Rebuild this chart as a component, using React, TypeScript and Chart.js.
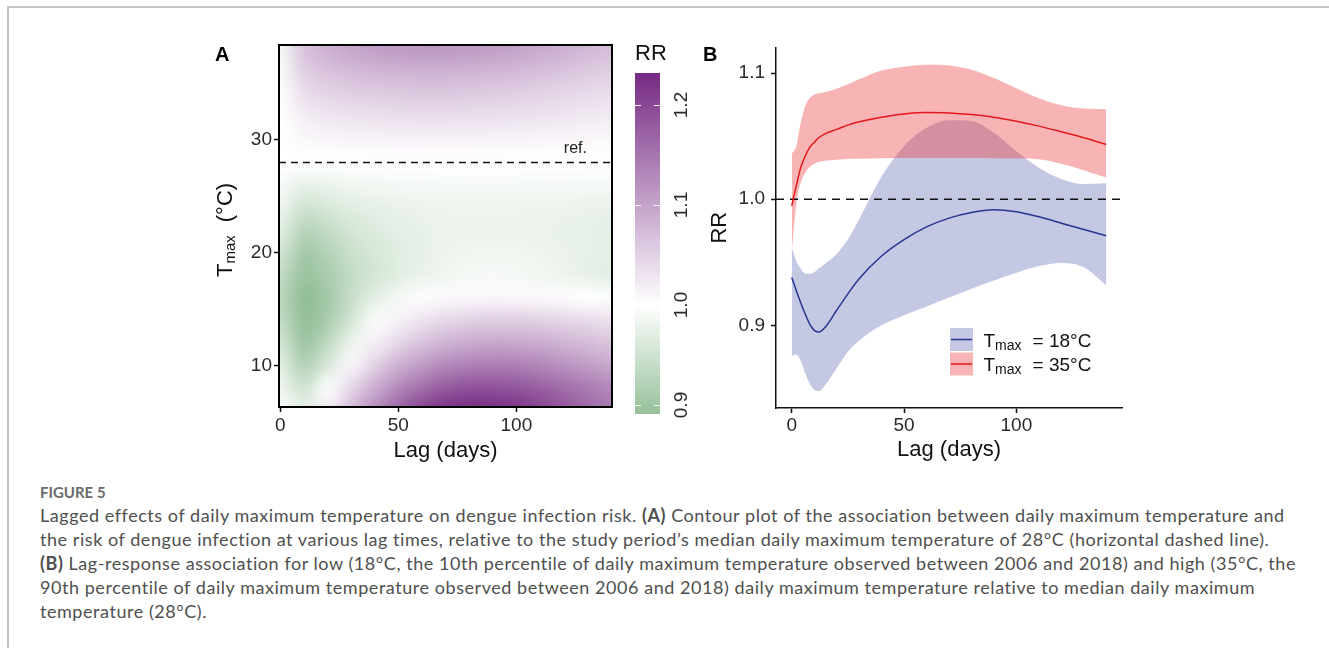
import React, { useEffect, useRef } from 'react';
import { Chart, registerables } from 'chart.js';

Chart.register(...registerables);

const SANS = "'Liberation Sans', Arial, Helvetica, sans-serif";
const CAPTION_FONT = "Lato, 'Open Sans', 'Noto Sans', sans-serif";
Chart.defaults.font.family = SANS;

// ---------------- Panel A: heat map (RR by lag and Tmax) ----------------
const HEAT_LAGS = [0, 10, 20, 30, 40, 50, 60, 70, 80, 90, 100, 110, 120, 130, 140];
const HEAT_TEMPS = [6, 8, 10, 12, 14, 16, 18, 20, 22, 24, 26, 28, 30, 32, 34, 36, 38];
const RR_T6 = [0.995, 0.975, 1.025, 1.075, 1.125, 1.17, 1.205, 1.225, 1.232, 1.23, 1.22, 1.205, 1.185, 1.165, 1.145];
const RR_T8 = [0.985, 0.95, 0.998, 1.045, 1.09, 1.13, 1.16, 1.18, 1.19, 1.19, 1.185, 1.175, 1.16, 1.145, 1.13];
const RR_T10 = [0.97, 0.92, 0.962, 1.012, 1.05, 1.085, 1.11, 1.13, 1.14, 1.142, 1.14, 1.132, 1.12, 1.108, 1.095];
const RR_T12 = [0.955, 0.9, 0.932, 0.982, 1.018, 1.045, 1.068, 1.083, 1.092, 1.096, 1.095, 1.09, 1.082, 1.073, 1.063];
const RR_T14 = [0.94, 0.89, 0.912, 0.955, 0.995, 1.015, 1.032, 1.044, 1.051, 1.054, 1.054, 1.051, 1.046, 1.04, 1.033];
const RR_T16 = [0.93, 0.885, 0.905, 0.942, 0.972, 0.99, 1.003, 1.007, 1.009, 1.01, 1.009, 1.007, 1.004, 1.0, 0.997];
const RR_T18 = [0.938, 0.896, 0.912, 0.937, 0.955, 0.968, 0.978, 0.985, 0.9895, 0.9916, 0.99, 0.986, 0.981, 0.976, 0.971];
const RR_T20 = [0.955, 0.905, 0.922, 0.944, 0.958, 0.968, 0.976, 0.981, 0.984, 0.985, 0.984, 0.982, 0.979, 0.976, 0.973];
const RR_T22 = [0.97, 0.925, 0.938, 0.955, 0.966, 0.972, 0.976, 0.979, 0.98, 0.98, 0.98, 0.979, 0.977, 0.975, 0.973];
const RR_T24 = [0.982, 0.95, 0.958, 0.968, 0.974, 0.978, 0.98, 0.982, 0.982, 0.982, 0.982, 0.981, 0.98, 0.979, 0.978];
const RR_T26 = [0.992, 0.975, 0.979, 0.984, 0.987, 0.989, 0.99, 0.991, 0.991, 0.991, 0.991, 0.99, 0.99, 0.989, 0.989];
const RR_T28 = [1, 1, 1, 1, 1, 1, 1, 1, 1, 1, 1, 1, 1, 1, 1];
const RR_T30 = [1.0, 1.008, 1.01, 1.012, 1.013, 1.014, 1.014, 1.014, 1.014, 1.013, 1.012, 1.011, 1.01, 1.009, 1.008];
const RR_T32 = [1.0, 1.02, 1.027, 1.031, 1.033, 1.035, 1.036, 1.036, 1.035, 1.034, 1.032, 1.03, 1.027, 1.024, 1.021];
const RR_T34 = [0.998, 1.036, 1.046, 1.052, 1.055, 1.058, 1.059, 1.059, 1.057, 1.055, 1.052, 1.048, 1.044, 1.04, 1.036];
const RR_T36 = [0.995, 1.052, 1.065, 1.073, 1.078, 1.082, 1.083, 1.083, 1.081, 1.078, 1.075, 1.07, 1.064, 1.058, 1.052];
const RR_T38 = [0.99, 1.065, 1.085, 1.097, 1.105, 1.11, 1.112, 1.112, 1.11, 1.106, 1.1, 1.093, 1.086, 1.078, 1.07];
const HEAT_RR = [RR_T6, RR_T8, RR_T10, RR_T12, RR_T14, RR_T16, RR_T18, RR_T20, RR_T22, RR_T24, RR_T26, RR_T28, RR_T30, RR_T32, RR_T34, RR_T36, RR_T38];

const LAG_RANGE_A = [-0.5, 140.5];
const TEMP_RANGE_A = [6.35, 38.4];
const LAG_TICKS = [0, 50, 100];
const TEMP_TICKS = [10, 20, 30];
const REF_TEMP = 28;
const REF_LABEL = { lag: 125, temp: 28.85, text: 'ref.' };

// colour bar
const CB_RANGE = [0.891, 1.232];
const CB_TICKS = [0.9, 1.0, 1.1, 1.2];
const RR_MID = 1;
const HIGH_RGB = [118, 42, 131];
const LOW_RGB = [32, 121, 40];

// ---------------- Panel B: lag-response curves ----------------
const LAGS_B = [0, 2, 4, 6, 8, 10, 12, 15, 20, 25, 30, 40, 50, 60, 70, 80, 90, 100, 110, 120, 130, 140];
const RR_LOW = [0.938, 0.9276, 0.918, 0.909, 0.901, 0.896, 0.8947, 0.8987, 0.912, 0.925, 0.937, 0.955, 0.968, 0.978, 0.985, 0.9895, 0.9916, 0.99, 0.986, 0.981, 0.976, 0.971];
const LOW_UPPER = [0.962, 0.951, 0.945, 0.941, 0.941, 0.942, 0.945, 0.949, 0.9566, 0.968, 0.984, 1.018, 1.042, 1.0566, 1.0626, 1.062, 1.0526, 1.038, 1.025, 1.016, 1.012, 1.0126];
const LOW_LOWER = [0.876, 0.877, 0.872, 0.862, 0.854, 0.849, 0.848, 0.853, 0.866, 0.879, 0.888, 0.9, 0.908, 0.915, 0.922, 0.929, 0.9355, 0.9416, 0.947, 0.9495, 0.946, 0.9316];
const RR_HIGH = [0.9947, 1.0105, 1.025, 1.034, 1.041, 1.045, 1.0487, 1.052, 1.0553, 1.0587, 1.0613, 1.065, 1.0676, 1.0687, 1.0684, 1.0671, 1.065, 1.0618, 1.0579, 1.0534, 1.0487, 1.0434];
const HIGH_UPPER = [1.036, 1.042, 1.0605, 1.0737, 1.08, 1.083, 1.084, 1.085, 1.0876, 1.091, 1.095, 1.102, 1.105, 1.1066, 1.106, 1.1026, 1.096, 1.088, 1.08, 1.0745, 1.0718, 1.0713];
const HIGH_LOWER = [0.958, 0.996, 1.013, 1.021, 1.0255, 1.028, 1.0295, 1.0305, 1.0313, 1.0318, 1.032, 1.0324, 1.0326, 1.0327, 1.0327, 1.0326, 1.0325, 1.0322, 1.0316, 1.028, 1.023, 1.0171];
const LAG_RANGE_B = [-7, 147];
const RR_RANGE_B = [0.8345, 1.1203];
const RR_TICKS_B = [0.9, 1.0, 1.1];
const LEGEND_LABELS = ['= 18°C', '= 35°C'];

const BLUE_LINE = '#283593';
const BLUE_FILL = 'rgba(40,53,147,0.27)';
const RED_LINE = '#e3191c';
const RED_FILL = 'rgba(235,40,40,0.35)';
const TICK_COLOR = '#2a2a2a';
const TITLE_COLOR = '#111';

function rrRGB(v: number): number[] {
  const half = CB_RANGE[1] - RR_MID;
  const t = Math.min(1, Math.abs(v - RR_MID) / half);
  const c = v >= RR_MID ? HIGH_RGB : LOW_RGB;
  return [0, 1, 2].map((k) => Math.round(255 + (c[k] - 255) * t));
}
function rrColor(v: number): string {
  const [r, g, b] = rrRGB(v);
  return `rgb(${r},${g},${b})`;
}
const pts = (xs: number[], ys: number[]) => xs.map((x, i) => ({ x, y: ys[i] }));
const fixedTicks = (vals: number[]) => (s: any) => {
  s.ticks = vals.map((value) => ({ value }));
};

const heatmapPlugin = {
  id: 'heatmap',
  beforeDatasetsDraw(chart: any) {
    const { ctx, chartArea: ca, scales } = chart;
    const xs = scales.x;
    const ys = scales.y;
    const nc = HEAT_LAGS.length;
    const nr = HEAT_TEMPS.length;
    const off = document.createElement('canvas');
    off.width = nc + 2;
    off.height = nr + 2;
    const octx = off.getContext('2d')!;
    const img = octx.createImageData(nc + 2, nr + 2);
    for (let r = 0; r < nr + 2; r++) {
      const ti = Math.min(nr - 1, Math.max(0, nr - r));
      for (let c = 0; c < nc + 2; c++) {
        const li = Math.min(nc - 1, Math.max(0, c - 1));
        const [R, G, B] = rrRGB(HEAT_RR[ti][li]);
        const p = (r * (nc + 2) + c) * 4;
        img.data[p] = R;
        img.data[p + 1] = G;
        img.data[p + 2] = B;
        img.data[p + 3] = 255;
      }
    }
    octx.putImageData(img, 0, 0);
    const dl = HEAT_LAGS[1] - HEAT_LAGS[0];
    const dt = HEAT_TEMPS[1] - HEAT_TEMPS[0];
    const left = xs.getPixelForValue(HEAT_LAGS[0] - 1.5 * dl);
    const right = xs.getPixelForValue(HEAT_LAGS[nc - 1] + 1.5 * dl);
    const top = ys.getPixelForValue(HEAT_TEMPS[nr - 1] + 1.5 * dt);
    const bottom = ys.getPixelForValue(HEAT_TEMPS[0] - 1.5 * dt);
    ctx.save();
    ctx.beginPath();
    ctx.rect(ca.left, ca.top, ca.right - ca.left, ca.bottom - ca.top);
    ctx.clip();
    ctx.imageSmoothingEnabled = true;
    ctx.imageSmoothingQuality = 'high';
    ctx.drawImage(off, left, top, right - left, bottom - top);
    ctx.restore();
  },
};

const panelADecor = {
  id: 'panelADecor',
  afterDraw(chart: any) {
    const { ctx, chartArea: ca, scales } = chart;
    ctx.save();
    ctx.strokeStyle = '#000';
    ctx.lineWidth = 2;
    ctx.strokeRect(ca.left, ca.top, ca.right - ca.left, ca.bottom - ca.top);
    // ref label
    ctx.fillStyle = '#222';
    ctx.font = `16px ${SANS}`;
    ctx.textAlign = 'center';
    ctx.textBaseline = 'alphabetic';
    ctx.fillText(REF_LABEL.text, scales.x.getPixelForValue(REF_LABEL.lag), scales.y.getPixelForValue(REF_LABEL.temp));
    // panel letter
    ctx.fillStyle = '#000';
    ctx.font = `bold 20px ${SANS}`;
    ctx.textAlign = 'left';
    ctx.fillText('A', 15, 31);
    // y title T_max (°C)
    ctx.translate(31.5, 247);
    ctx.rotate(-Math.PI / 2);
    ctx.fillStyle = TITLE_COLOR;
    ctx.font = `22px ${SANS}`;
    ctx.fillText('T', 0, 0);
    const wT = ctx.measureText('T').width;
    ctx.font = `15px ${SANS}`;
    ctx.fillText('max', wT, 3);
    const wM = ctx.measureText('max').width;
    ctx.font = `22px ${SANS}`;
    ctx.fillText('(°C)', wT + wM + 13, 0);
    ctx.restore();
  },
};

const colorbarPlugin = {
  id: 'colorbar',
  afterDraw(chart: any) {
    const { ctx, chartArea: ca, scales } = chart;
    const s = scales.y;
    ctx.save();
    for (let py = Math.floor(ca.top); py < Math.ceil(ca.bottom); py++) {
      ctx.fillStyle = rrColor(s.getValueForPixel(py + 0.5));
      ctx.fillRect(ca.left, py, ca.right - ca.left, 1);
    }
    ctx.strokeStyle = 'rgba(255,255,255,0.9)';
    ctx.lineWidth = 1;
    CB_TICKS.forEach((v) => {
      const py = Math.round(s.getPixelForValue(v)) + 0.5;
      ctx.beginPath();
      ctx.moveTo(ca.left, py);
      ctx.lineTo(ca.left + 6, py);
      ctx.moveTo(ca.right - 6, py);
      ctx.lineTo(ca.right, py);
      ctx.stroke();
    });
    ctx.fillStyle = TICK_COLOR;
    ctx.font = `19px ${SANS}`;
    ctx.textAlign = 'center';
    ctx.textBaseline = 'alphabetic';
    CB_TICKS.forEach((v) => {
      const py = s.getPixelForValue(v);
      ctx.save();
      ctx.translate(ca.right + 27, py);
      ctx.rotate(-Math.PI / 2);
      ctx.fillText(v.toFixed(1), 0, 0);
      ctx.restore();
    });
    ctx.fillStyle = TITLE_COLOR;
    ctx.font = `22px ${SANS}`;
    ctx.textAlign = 'left';
    ctx.fillText('RR', ca.left, ca.top - 13);
    ctx.restore();
  },
};

const panelBDecor = {
  id: 'panelBDecor',
  afterDraw(chart: any) {
    const { ctx } = chart;
    ctx.save();
    ctx.fillStyle = '#000';
    ctx.font = `bold 20px ${SANS}`;
    ctx.textAlign = 'left';
    ctx.textBaseline = 'alphabetic';
    ctx.fillText('B', 13, 31);
    const items = [
      { fill: BLUE_FILL, line: BLUE_LINE, label: LEGEND_LABELS[0] },
      { fill: RED_FILL, line: RED_LINE, label: LEGEND_LABELS[1] },
    ];
    items.forEach((it, i) => {
      const kx = 260;
      const ky = 298 + i * 24.5;
      ctx.fillStyle = it.fill;
      ctx.fillRect(kx, ky, 23, 23);
      ctx.strokeStyle = it.line;
      ctx.lineWidth = 1.5;
      ctx.beginPath();
      ctx.moveTo(kx + 1, ky + 11.5);
      ctx.lineTo(kx + 22, ky + 11.5);
      ctx.stroke();
      const bx = 293.5;
      const by = ky + 18.5;
      ctx.fillStyle = TITLE_COLOR;
      ctx.font = `19px ${SANS}`;
      ctx.fillText('T', bx, by);
      const wT = ctx.measureText('T').width;
      ctx.font = `14px ${SANS}`;
      ctx.fillText('max', bx + wT, by + 3);
      const wM = ctx.measureText('max').width;
      ctx.font = `19px ${SANS}`;
      ctx.fillText(it.label, bx + wT + wM + 11, by);
    });
    ctx.restore();
  },
};

function makeA(el: HTMLCanvasElement) {
  return new Chart(el, {
    type: 'scatter',
    data: {
      datasets: [
        {
          type: 'line',
          data: [
            { x: LAG_RANGE_A[0], y: REF_TEMP },
            { x: LAG_RANGE_A[1], y: REF_TEMP },
          ],
          borderColor: '#111',
          borderWidth: 1.6,
          borderDash: [7, 5],
          pointRadius: 0,
        } as any,
      ],
    },
    options: {
      responsive: false,
      animation: false,
      devicePixelRatio: 1,
      layout: { padding: { left: 0, right: 8, top: 15, bottom: 0 } },
      plugins: { legend: { display: false }, tooltip: { enabled: false } },
      scales: {
        x: {
          type: 'linear',
          min: LAG_RANGE_A[0],
          max: LAG_RANGE_A[1],
          afterBuildTicks: fixedTicks(LAG_TICKS),
          afterFit: (s: any) => {
            s.height = 63;
          },
          ticks: { font: { size: 19 }, color: TICK_COLOR, padding: 2, maxRotation: 0, autoSkip: false },
          grid: { display: true, drawOnChartArea: false, drawTicks: true, tickLength: 5, tickWidth: 1.5, tickColor: '#111' },
          border: { display: false },
          title: { display: true, text: 'Lag (days)', font: { size: 22 }, color: TITLE_COLOR, padding: { top: 0, bottom: 6 } },
        },
        y: {
          type: 'linear',
          min: TEMP_RANGE_A[0],
          max: TEMP_RANGE_A[1],
          afterBuildTicks: fixedTicks(TEMP_TICKS),
          afterFit: (s: any) => {
            s.width = 79;
          },
          ticks: { font: { size: 19 }, color: TICK_COLOR, padding: 2, autoSkip: false },
          grid: { display: true, drawOnChartArea: false, drawTicks: true, tickLength: 5, tickWidth: 1.5, tickColor: '#111' },
          border: { display: false },
        },
      },
    } as any,
    plugins: [heatmapPlugin, panelADecor],
  });
}

function makeCB(el: HTMLCanvasElement) {
  return new Chart(el, {
    type: 'scatter',
    data: { datasets: [] },
    options: {
      responsive: false,
      animation: false,
      devicePixelRatio: 1,
      layout: { padding: { left: 15, right: 40, top: 33, bottom: 16 } },
      plugins: { legend: { display: false }, tooltip: { enabled: false } },
      scales: {
        x: { type: 'linear', display: false, min: 0, max: 1 },
        y: { type: 'linear', display: false, min: CB_RANGE[0], max: CB_RANGE[1] },
      },
    } as any,
    plugins: [colorbarPlugin],
  });
}

function makeB(el: HTMLCanvasElement) {
  const band = (ys: number[], fill: any, color: string) => ({
    data: pts(LAGS_B, ys),
    borderColor: 'transparent',
    borderWidth: 0,
    pointRadius: 0,
    backgroundColor: color,
    fill,
    cubicInterpolationMode: 'monotone',
  });
  return new Chart(el, {
    type: 'line',
    data: {
      datasets: [
        { data: pts(LAGS_B, RR_HIGH), borderColor: RED_LINE, borderWidth: 1.5, pointRadius: 0, fill: false, cubicInterpolationMode: 'monotone' },
        { data: pts(LAGS_B, RR_LOW), borderColor: BLUE_LINE, borderWidth: 1.5, pointRadius: 0, fill: false, cubicInterpolationMode: 'monotone' },
        {
          data: [
            { x: LAG_RANGE_B[0], y: RR_MID },
            { x: LAG_RANGE_B[1], y: RR_MID },
          ],
          borderColor: '#111',
          borderWidth: 1.5,
          borderDash: [8, 6],
          pointRadius: 0,
          fill: false,
        },
        band(HIGH_UPPER, '+1', RED_FILL),
        band(HIGH_LOWER, false, 'transparent'),
        band(LOW_UPPER, '+1', BLUE_FILL),
        band(LOW_LOWER, false, 'transparent'),
      ] as any,
    },
    options: {
      responsive: false,
      animation: false,
      devicePixelRatio: 1,
      layout: { padding: { left: 0, right: 18, top: 16, bottom: 0 } },
      plugins: { legend: { display: false }, tooltip: { enabled: false } },
      scales: {
        x: {
          type: 'linear',
          min: LAG_RANGE_B[0],
          max: LAG_RANGE_B[1],
          afterBuildTicks: fixedTicks(LAG_TICKS),
          afterFit: (s: any) => {
            s.height = 62;
          },
          ticks: { font: { size: 19 }, color: TICK_COLOR, padding: 1, maxRotation: 0, autoSkip: false },
          grid: { display: true, drawOnChartArea: false, drawTicks: true, tickLength: 5, tickWidth: 1.5, tickColor: '#111' },
          border: { display: true, color: '#111', width: 1.5 },
          title: { display: true, text: 'Lag (days)', font: { size: 22 }, color: TITLE_COLOR, padding: { top: 0, bottom: 7 } },
        },
        y: {
          type: 'linear',
          min: RR_RANGE_B[0],
          max: RR_RANGE_B[1],
          afterBuildTicks: fixedTicks(RR_TICKS_B),
          afterFit: (s: any) => {
            s.width = 86;
          },
          ticks: { font: { size: 19 }, color: TICK_COLOR, padding: 6, autoSkip: false, callback: (v: any) => Number(v).toFixed(1) },
          grid: { display: true, drawOnChartArea: false, drawTicks: true, tickLength: 5, tickWidth: 1.5, tickColor: '#111' },
          border: { display: true, color: '#111', width: 1.5 },
          title: { display: true, text: 'RR', font: { size: 22 }, color: TITLE_COLOR, padding: { top: 17, bottom: 0 } },
        },
      },
    } as any,
    plugins: [panelBDecor],
  });
}

const CAPTION_LINES: React.ReactNode[] = [
  <>Lagged effects of daily maximum temperature on dengue infection risk. <b>(A)</b> Contour plot of the association between daily maximum temperature and</>,
  <>the risk of dengue infection at various lag times, relative to the study period’s median daily maximum temperature of 28°C (horizontal dashed line).</>,
  <><b>(B)</b> Lag-response association for low (18°C, the 10th percentile of daily maximum temperature observed between 2006 and 2018) and high (35°C, the</>,
  <>90th percentile of daily maximum temperature observed between 2006 and 2018) daily maximum temperature relative to median daily maximum</>,
  <>temperature (28°C).</>,
];

export default function App() {
  const aRef = useRef<HTMLCanvasElement>(null);
  const cbRef = useRef<HTMLCanvasElement>(null);
  const bRef = useRef<HTMLCanvasElement>(null);
  useEffect(() => {
    const charts = [makeA(aRef.current!), makeCB(cbRef.current!), makeB(bRef.current!)];
    return () => charts.forEach((c) => c.destroy());
  }, []);
  return (
    <div style={{ position: 'fixed', left: 0, top: 0, width: 1329, height: 648, background: '#fff', overflow: 'hidden' }}>
      <div style={{ position: 'absolute', left: 7, top: 6, width: 1400, height: 700, borderTop: '2px solid #c6c6c6', borderLeft: '2px solid #c6c6c6' }} />
      <canvas ref={aRef} width={420} height={440} style={{ position: 'absolute', left: 200, top: 30 }} />
      <canvas ref={cbRef} width={80} height={390} style={{ position: 'absolute', left: 620, top: 40 }} />
      <canvas ref={bRef} width={450} height={440} style={{ position: 'absolute', left: 690, top: 30 }} />
      <div style={{ position: 'absolute', left: 40, top: 482, fontFamily: CAPTION_FONT, fontSize: 15, fontWeight: 700, color: '#6a6a6a', lineHeight: '20px', whiteSpace: 'nowrap' }}>
        FIGURE 5
      </div>
      <div style={{ position: 'absolute', left: 40, top: 503, fontFamily: CAPTION_FONT, fontSize: 18, letterSpacing: '0.55px', color: '#4f4f4f', lineHeight: '24px', whiteSpace: 'nowrap' }}>
        {CAPTION_LINES.map((l, i) => (
          <div key={i}>{l}</div>
        ))}
      </div>
    </div>
  );
}
